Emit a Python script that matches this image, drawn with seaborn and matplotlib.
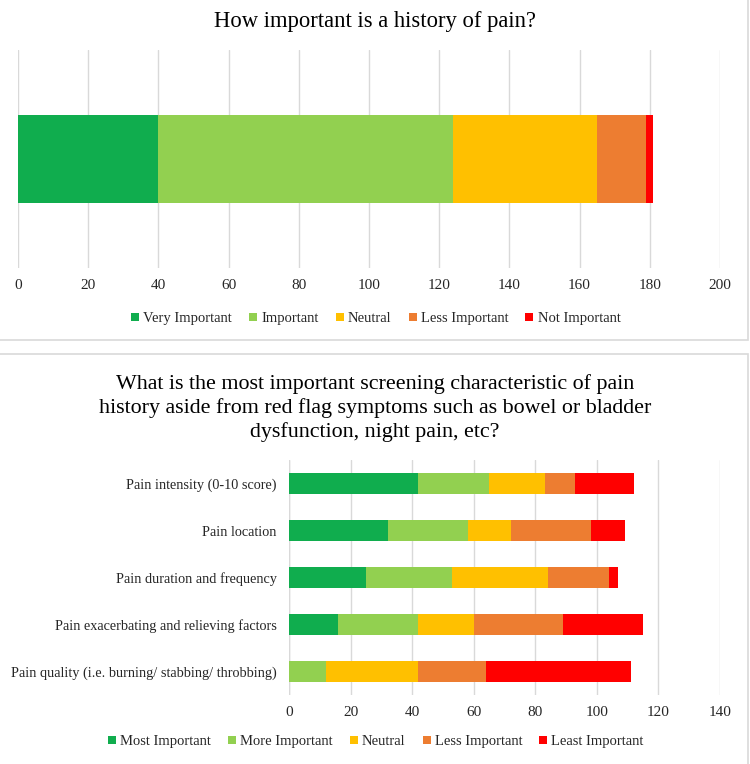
import matplotlib
matplotlib.use("Agg")
import matplotlib.pyplot as plt
from matplotlib.patches import Rectangle
from matplotlib.lines import Line2D
import seaborn as sns
import pandas as pd
import numpy as np

# ---------------- data ----------------
top_title = "How important is a history of pain?"
top_levels = ["Very Important", "Important", "Neutral", "Less Important", "Not Important"]
top_values = [40, 84, 41, 14, 2]

bot_title_lines = ["What is the most important screening characteristic of pain",
                   "history aside from red flag symptoms such as bowel or bladder",
                   "dysfunction, night pain, etc?"]
bot_categories = ["Pain intensity (0-10 score)", "Pain location",
                  "Pain duration and frequency",
                  "Pain exacerbating and relieving factors",
                  "Pain quality (i.e. burning/ stabbing/ throbbing)"]
bot_levels = ["Most Important", "More Important", "Neutral", "Less Important", "Least Important"]
most_important = [42, 32, 25, 16, 0]
more_important = [23, 26, 28, 26, 12]
neutral = [18, 14, 31, 18, 30]
less_important = [10, 26, 20, 29, 22]
least_important = [19, 11, 3, 26, 47]

top_ticks = list(range(0, 201, 20))
bot_ticks = list(range(0, 141, 20))

colors = ["#10AD4E", "#92D050", "#FFC000", "#ED7D31", "#FF0000"]

# ---------------- style ----------------
sns.set_theme(style="white")
plt.rcParams['font.family'] = ['Liberation Serif', 'DejaVu Serif']
grid_c = "#D9D9D9"
text_c = "#262626"

fig = plt.figure(figsize=(7.5, 7.64), dpi=100)
H = 764.0

def fy(px):
    return 1 - px / H

# panel frames
fig.patches.append(Rectangle((-0.01, fy(340)), 0.9973 + 0.01, 1.02 - fy(340),
                             transform=fig.transFigure, fill=False,
                             edgecolor=grid_c, linewidth=1.2))
fig.patches.append(Rectangle((-0.01, -0.02), 0.9973 + 0.01, fy(354) + 0.02,
                             transform=fig.transFigure, fill=False,
                             edgecolor=grid_c, linewidth=1.2))

def stacked(ax, cats, series, width):
    cum = np.cumsum(np.array(series, dtype=float), axis=0)
    for i in range(len(series) - 1, -1, -1):
        df = pd.DataFrame({"cat": cats, "val": cum[i]})
        sns.barplot(data=df, x="val", y="cat", orient="h", ax=ax,
                    color=colors[i], width=width, linewidth=0,
                    saturation=1, order=cats, zorder=3)

def style_axes(ax, ticks, xmax):
    ax.set_xlim(0, xmax)
    ax.set_xticks(ticks)
    ax.set_xticklabels([str(t) for t in ticks], fontsize=11, color=text_c)
    ax.grid(axis="x", color=grid_c, linewidth=1.0, zorder=0)
    ax.grid(axis="y", visible=False)
    for s in ["top", "right", "bottom", "left"]:
        ax.spines[s].set_visible(False)
    ax.tick_params(axis="both", length=0)
    ax.tick_params(axis="x", pad=8)
    ax.set_xlabel("")
    ax.set_ylabel("")
    ax.set_axisbelow(True)

def legend(labels, y):
    handles = [Line2D([], [], marker="s", linestyle="", markersize=5.5,
                      markerfacecolor=c, markeredgewidth=0) for c in colors]
    fig.legend(handles, labels, loc="center", bbox_to_anchor=(0.5, fy(y)),
               ncol=5, frameon=False, fontsize=10.5, handletextpad=0.15,
               columnspacing=1.05, handlelength=0.8, labelcolor=text_c)

# ---------------- top chart ----------------
ax1 = fig.add_axes([18 / 750, fy(268), 702 / 750, 218 / H])
stacked(ax1, [""], [[v] for v in top_values], 0.40)
style_axes(ax1, top_ticks, 200)
ax1.set_yticklabels([])
ax1.set_ylim(0.5, -0.5)
fig.text(0.5, fy(22), top_title, ha="center", va="center", fontsize=16.3, color="black")
legend(top_levels, 318)

# ---------------- bottom chart ----------------
ax2 = fig.add_axes([289 / 750, fy(695), 431 / 750, 235 / H])
stacked(ax2, bot_categories,
        [most_important, more_important, neutral, less_important, least_important],
        0.43)
style_axes(ax2, bot_ticks, 140)
ax2.set_ylim(4.5, -0.5)
ax2.set_yticks(range(len(bot_categories)))
ax2.set_yticklabels(bot_categories, fontsize=10.3, color=text_c)
ax2.tick_params(axis="y", pad=9)
ax2.axvline(0, color=grid_c, linewidth=1.0, zorder=1)
for line, ypx in zip(bot_title_lines, [384, 408, 432]):
    fig.text(0.5, fy(ypx), line, ha="center", va="center", fontsize=15.8, color="black")
legend(bot_levels, 741)

fig.savefig("out.png", dpi=100)
